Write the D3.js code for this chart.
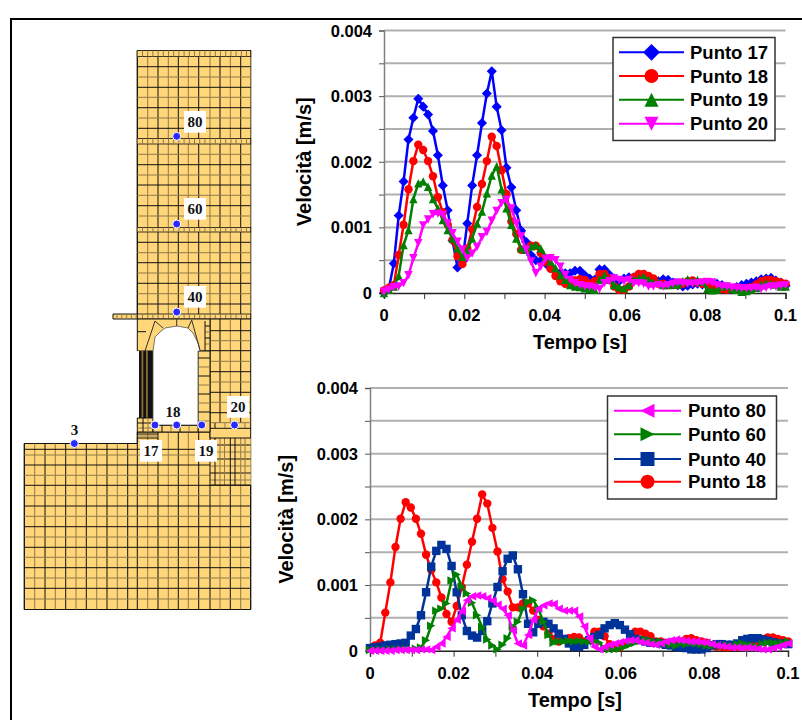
<!DOCTYPE html>
<html>
<head>
<meta charset="utf-8">
<script src="https://cdn.jsdelivr.net/npm/d3@7"></script>
<style>
  html, body { margin: 0; padding: 0; background: #fff; }
  svg { display: block; }
  text { font-family: "Liberation Sans", Arial, sans-serif; font-weight: bold; fill: #000; }
  .mesh-label { font-family: "Liberation Serif", "Times New Roman", serif; font-size: 15px; fill: #111; }
</style>
</head>
<body>
<script>
// sample step of the time series [s]
var timeStep = 0.00122;

// Velocity [m/s]
var punto17 = [
  0, .00007, .00045, .00118, .0017, .00234, .00267, .00296, .00284, .00272,
  .00247, .0021, .00164, .00126, .0008, .00039, .00048, .00106, .00164, .0021,
  .00259, .00304, .00338, .00284, .00248, .00191, .00161, .00126, .00095, .00078,
  .00058, .0005, .00049, .00045, .00038, .00033, .0003, .0003, .0003, .00034,
  .00034, .00027, .00022, .0002, .00036, .00036, .00028, .00022, .00018, .00022,
  .00024, .00024, .00022, .00022, .00018, .00016, .00018, .00021, .0002, .00016,
  .00012, .0001, .00011, .00013, .00014, .00013, .00011, .00014, .00014, .00012,
  .00007, .00006, .00009, .00012, .00014, .00016, .00018, .00021, .00022, .00023,
  .00019, .00016, .00011
];
var punto18 = [
  .00004, .00008, .00012, .00058, .00104, .00158, .00201, .00226, .00218, .00201,
  .00178, .00146, .00123, .00104, .00081, .00056, .00044, .00068, .00097, .00131,
  .00166, .00201, .00238, .00224, .00187, .00151, .00109, .0009, .00066, .00066,
  .00072, .00072, .00061, .00047, .00037, .00026, .00018, .00014, .00017, .00019,
  .00021, .0002, .00014, .00018, .00029, .00029, .00022, .0001, .00005, .00005,
  .0001, .00024, .00029, .00029, .00026, .00022, .00014, .00014, .00012, .00012,
  .00012, .00014, .00018, .00019, .00016, .00014, .00012, .00008, .00006, .00006,
  .00005, .00006, .00006, .00007, .00007, .00009, .00013, .00018, .0002, .0002,
  .00018, .00016, .00014
];
var punto19 = [
  0, .00005, .0001, .00026, .00073, .00096, .00143, .00167, .0017, .00162,
  .00143, .00129, .00111, .00096, .00083, .00068, .00055, .00065, .00083, .00106,
  .00124, .00152, .00179, .00193, .00158, .00129, .00104, .00083, .00068, .00066,
  .00071, .00073, .00068, .00055, .00048, .00038, .00027, .0002, .00012, .0001,
  .00009, .00007, .00006, .00005, .0002, .00027, .0002, .00012, .00009, .00007,
  .00012, .0002, .00022, .00025, .0002, .00016, .00016, .00012, .00012, .00013,
  .00013, .00018, .00021, .00018, .0002, .00017, .00006, .00004, .00005, .0001,
  .00011, .00006, .00005, .00002, .00003, .00005, .00008, .00013, .00015, .00014,
  .00013, .0001, .0001
];
var punto20 = [
  .00002, .00005, .00009, .0001, .00015, .00027, .00053, .00076, .00103, .00112,
  .0012, .00121, .00119, .00106, .00091, .00078, .00066, .00053, .0006, .0007,
  .00085, .00093, .0011, .00125, .00137, .00142, .00129, .00106, .00086, .00066,
  .00048, .0003, .0004, .00052, .00053, .0005, .0004, .00027, .0002, .00015,
  .00012, .0001, .0001, .00008, .00006, .00015, .00018, .00022, .0002, .00018,
  .0002, .00015, .00015, .00014, .0001, .0001, .00012, .0001, .00012, .00014,
  .00016, .00015, .00014, .00014, .00015, .00016, .00017, .00016, .00012, .0001,
  .0001, .00008, .00008, .00007, .00007, .00007, .00008, .00006, .00008, .0001,
  .0001, .00011, .00012
];
var punto40 = [
  .00004, .00005, .00006, .00008, .00009, .0001, .00011, .00012, .00023, .00033,
  .00054, .00089, .00128, .00152, .00161, .00155, .00129, .00089, .00054, .0003,
  .00023, .0002, .0003, .00045, .00072, .00097, .00121, .0014, .00145, .00124,
  .00086, .00041, .00028, .00041, .00044, .00041, .00034, .00026, .00018, .00011,
  .00006, .00006, .00009, .00016, .00021, .00024, .00034, .00039, .00042, .00039,
  .00032, .00025, .00018, .00016, .00014, .00012, .00012, .00011, .00009, .00008,
  .00006, .00005, .00004, .00002, .00002, .00002, .00004, .00008, .0001, .0001,
  .00009, .00009, .00011, .00016, .00018, .00019, .00019, .00017, .00015, .00013,
  .00011, .00011, .0001
];
var punto60 = [
  .00001, .00001, .00001, .00001, .00002, .00002, .00002, .00002, .00002, .00003,
  .00005, .00016, .00038, .00061, .00064, .00072, .00107, .00116, .00098, .00087,
  .00073, .00054, .00036, .00017, .00008, .00002, .00009, .00019, .00037, .00044,
  .00064, .00074, .00077, .00064, .00044, .00024, .00012, .00014, .00014, .00015,
  .00014, .00015, .00014, .00014, .00014, .00012, .00003, .00002, .00002, .00003,
  .00006, .00009, .00012, .00015, .00017, .00016, .00013, .00014, .00011, .00009,
  .00008, .00011, .0001, .00012, .00011, .0001, .00008, .00007, .00009, .00007,
  .00008, .00007, .0001, .00011, .00009, .00008, .00006, .0001, .00012, .00012,
  .00011, .00012, .00014
];
var punto80 = [
  0, 0, 0, 0, 0, .00001, .00001, .00001, .00001, .00001,
  .00002, .00002, .00001, .00006, .00011, .00021, .00034, .00047, .0006, .00077,
  .00083, .00084, .00083, .0008, .00076, .0007, .00064, .00054, .00031, .00011,
  .00008, .00024, .00047, .00064, .00069, .00072, .00071, .00064, .00061, .00061,
  .00061, .00052, .00037, .00019, .00006, .00002, .00006, .00009, .00011, .00013,
  .00015, .00016, .00016, .00013, .00012, .0001, .00009, .00011, .00014, .00016,
  .00017, .00016, .00015, .00014, .00014, .00013, .00012, .0001, .00008, .00007,
  .00006, .00005, .00005, .00004, .00005, .00004, .00003, .00002, .00002, .00004,
  .00006, .00009, .00011
];

var yTicks = [0, 0.001, 0.002, 0.003, 0.004];
var xTicks = [0, 0.02, 0.04, 0.06, 0.08, 0.1];
var xMinorTicks = [0, 0.01, 0.02, 0.03, 0.04, 0.05, 0.06, 0.07, 0.08, 0.09, 0.1];
var yGrid = [0.0005, 0.001, 0.0015, 0.002, 0.0025, 0.003, 0.0035, 0.004];

var topSeries = [
  { name: 'Punto 17', values: punto17, color: '#0000ff', shape: 'diamond' },
  { name: 'Punto 18', values: punto18, color: '#ff0000', shape: 'circle' },
  { name: 'Punto 19', values: punto19, color: '#008000', shape: 'triUp' },
  { name: 'Punto 20', values: punto20, color: '#ff00ff', shape: 'triDown' }
];
var bottomSeries = [
  { name: 'Punto 80', values: punto80, color: '#ff00ff', shape: 'triLeft' },
  { name: 'Punto 60', values: punto60, color: '#008000', shape: 'triRight' },
  { name: 'Punto 40', values: punto40, color: '#003399', shape: 'square' },
  { name: 'Punto 18', values: punto18, color: '#ff0000', shape: 'circle' }
];

// mesh of the masonry section, in page pixels
var towerCols = [137.3, 147.7, 158, 168.3, 178.3, 188.3, 198.7, 210, 220, 230.3, 240.7, 250.7];
var towerRows = [66.7, 77, 87.3, 97.3, 107.7, 118, 128.3, 154.3, 164.7, 175, 185, 195.3, 205.7, 216,
  242.3, 252.7, 262.7, 273, 283.3, 293.7, 304];
var towerBands = [[50.5, 56.5], [138.5, 144], [227.5, 232], [314, 319]];
var groundCols = [24.3, 34.7, 45, 55.3, 65.7, 76, 86.3, 96.7, 107, 117.3, 127.7, 137.3, 147.7, 158, 168.3, 178.3, 188.3, 198.7, 210, 220, 230.3, 240.7, 250.7];
var groundRows = [449.3, 455, 465, 475.3, 485.3, 495.7, 506, 516.3, 526.7, 537, 547.3, 557.3, 567.7, 578, 588.3, 599];
var rightRows = [330.7, 340.7, 350.7, 361.3, 371.7, 382, 392.3, 402.3, 412.7, 422.7];
var fineCols = [215, 224.5, 235, 245];
var fineRows = [445, 452, 459, 466, 473, 480];
var pierRows = [358, 367, 376, 385, 394, 403, 412, 421];

var nodes = [
  { label: '80', x: 176.7, y: 136.3, lx: 184, ly: 111, box: true },
  { label: '60', x: 176.7, y: 224, lx: 184, ly: 198, box: true },
  { label: '40', x: 176.7, y: 312, lx: 184, ly: 286, box: true },
  { label: '3', x: 74.3, y: 443.5, lx: 63.5, ly: 419, box: false },
  { label: '17', x: 155, y: 425, lx: 140, ly: 440, box: true },
  { label: '18', x: 176.7, y: 425, lx: 162, ly: 401, box: false },
  { label: '19', x: 201.7, y: 425, lx: 195, ly: 440, box: true },
  { label: '20', x: 234.5, y: 425, lx: 227, ly: 396, box: true }
];

var svg = d3.select('body').append('svg').attr('width', 802).attr('height', 720);

svg.append('rect').attr('width', 802).attr('height', 720).attr('fill', '#fff');
svg.append('path').attr('d', 'M11,720V19H802').attr('fill', 'none').attr('stroke', '#000').attr('stroke-width', 2);

drawMesh(svg.append('g'));

drawChart({
  series: topSeries,
  left: 384, right: 785.5, top: 30.5, bottom: 293,
  yTitleX: 305, xTitleX: 580, xTitleY: 349,
  legend: { x: 613, y: 37.5, w: 162, h: 103, rows: [52.3, 76, 99.7, 123.7], lineX: [619, 684], textX: 690 }
});
drawChart({
  series: bottomSeries,
  left: 370, right: 788, top: 388, bottom: 650.7,
  yTitleX: 287, xTitleX: 575, xTitleY: 707,
  legend: { x: 607.5, y: 396, w: 169, h: 103, rows: [410.7, 434.3, 459, 481.7], lineX: [614, 681], textX: 688 }
});

function symbolPath(shape, r) {
  if (shape === 'circle') return d3.symbol().type(d3.symbolCircle).size(Math.PI * r * r)();
  if (shape === 'square') return 'M' + -r + ',' + -r + 'H' + r + 'V' + r + 'H' + -r + 'Z';
  if (shape === 'diamond') return 'M0,' + -r * 1.2 + 'L' + r * 1.2 + ',0L0,' + r * 1.2 + 'L' + -r * 1.2 + ',0Z';
  if (shape === 'triUp') return 'M0,' + -r + 'L' + r + ',' + r + 'H' + -r + 'Z';
  if (shape === 'triDown') return 'M0,' + r + 'L' + r + ',' + -r + 'H' + -r + 'Z';
  if (shape === 'triLeft') return 'M' + -r + ',0L' + r + ',' + -r + 'V' + r + 'Z';
  return 'M' + r + ',0L' + -r + ',' + -r + 'V' + r + 'Z';
}

function drawChart(cfg) {
  var g = svg.append('g');
  var x = d3.scaleLinear().domain([0, 0.1]).range([cfg.left, cfg.right]);
  var y = d3.scaleLinear().domain([0, 0.004]).range([cfg.bottom, cfg.top]);

  // gridlines
  g.selectAll('.grid').data(yGrid).enter().append('line')
    .attr('class', 'grid')
    .attr('x1', cfg.left).attr('x2', cfg.right)
    .attr('y1', d => y(d)).attr('y2', d => y(d))
    .attr('stroke', '#b0b0b0').attr('stroke-width', 2);

  // axes
  var xAxis = d3.axisBottom(x).tickValues(xMinorTicks).tickSize(6).tickFormat('');
  g.append('g').attr('transform', 'translate(0,' + cfg.bottom + ')').call(xAxis)
    .call(a => a.select('.domain').attr('stroke', '#222').attr('stroke-width', 1.5))
    .call(a => a.selectAll('line').attr('stroke', '#333').attr('stroke-width', 1));
  var yAxis = d3.axisLeft(y).tickValues(yGrid.concat([0])).tickSize(5).tickFormat('');
  g.append('g').attr('transform', 'translate(' + cfg.left + ',0)').call(yAxis)
    .call(a => a.select('.domain').attr('stroke', '#808080').attr('stroke-width', 1.5))
    .call(a => a.selectAll('line').attr('stroke', '#555').attr('stroke-width', 1));

  g.selectAll('.ylab').data(yTicks).enter().append('text')
    .attr('class', 'ylab')
    .attr('x', cfg.left - 12).attr('y', d => y(d) + 6)
    .attr('text-anchor', 'end').attr('font-size', 16.5)
    .text(d => d === 0 ? '0' : d3.format('.3f')(d));
  g.selectAll('.xlab').data(xTicks).enter().append('text')
    .attr('class', 'xlab')
    .attr('x', d => x(d)).attr('y', cfg.bottom + 28)
    .attr('text-anchor', 'middle').attr('font-size', 16.5)
    .text(d => d === 0 ? '0' : d3.format('.2~f')(d));

  g.append('text').attr('x', cfg.xTitleX).attr('y', cfg.xTitleY)
    .attr('text-anchor', 'middle').attr('font-size', 20).text('Tempo [s]');
  g.append('text')
    .attr('transform', 'translate(' + cfg.yTitleX + ',' + (cfg.top + cfg.bottom) / 2 + ')rotate(-90)')
    .attr('y', 6).attr('text-anchor', 'middle').attr('font-size', 20).text('Velocità [m/s]');

  // series, last one of the legend goes under the others on the lower chart
  var line = d3.line().x((d, i) => x(i * timeStep)).y(d => y(d));
  var order = cfg.series[0].name === 'Punto 80' ? cfg.series.slice().reverse() : cfg.series;
  order.forEach(function (s) {
    var sg = g.append('g');
    sg.append('path').attr('d', line(s.values)).attr('fill', 'none')
      .attr('stroke', s.color).attr('stroke-width', 2.5);
    sg.selectAll('path.mark').data(s.values).enter().append('path')
      .attr('class', 'mark')
      .attr('d', symbolPath(s.shape, 4.2))
      .attr('transform', (d, i) => 'translate(' + x(i * timeStep) + ',' + y(d) + ')')
      .attr('fill', s.color);
  });

  // legend
  var lg = cfg.legend;
  g.append('rect').attr('x', lg.x).attr('y', lg.y).attr('width', lg.w).attr('height', lg.h)
    .attr('fill', '#fff').attr('stroke', '#333').attr('stroke-width', 1.5);
  var mid = (lg.lineX[0] + lg.lineX[1]) / 2;
  var rows = g.selectAll('.legend-row').data(cfg.series).enter().append('g')
    .attr('class', 'legend-row')
    .attr('transform', (d, i) => 'translate(0,' + lg.rows[i] + ')');
  rows.append('line').attr('x1', lg.lineX[0]).attr('x2', lg.lineX[1])
    .attr('stroke', d => d.color).attr('stroke-width', 2);
  rows.append('path').attr('d', d => symbolPath(d.shape, 7))
    .attr('transform', 'translate(' + mid + ',0)')
    .attr('fill', d => d.color);
  rows.append('text').attr('x', lg.textX).attr('y', 6.5).attr('font-size', 18.5).text(d => d.name);
}

function drawMesh(g) {
  var fill = '#ffd67a', dark = '#111', soft = '#8f7a48';

  function hLines(rows, x1, x2) {
    rows.forEach(function (r, i) {
      g.append('line').attr('x1', x1).attr('x2', x2).attr('y1', r).attr('y2', r)
        .attr('stroke', i % 2 ? soft : dark).attr('stroke-width', 1);
    });
  }
  function vLines(cols, y1, y2) {
    cols.forEach(function (c, i) {
      g.append('line').attr('x1', c).attr('x2', c).attr('y1', y1).attr('y2', y2)
        .attr('stroke', i % 2 ? soft : dark).attr('stroke-width', 1);
    });
  }
  function poly(d, f) {
    g.append('path').attr('d', d).attr('fill', f || fill).attr('stroke', dark).attr('stroke-width', 1);
  }

  // tower
  poly('M137.3,50.5H250.7V319H137.3Z');
  vLines(towerCols, 50.5, 319);
  hLines(towerRows, 137.3, 250.7);
  towerBands.forEach(function (b) {
    g.append('rect').attr('x', 137.3).attr('y', b[0]).attr('width', 113.4).attr('height', b[1] - b[0])
      .attr('fill', fill).attr('stroke', dark).attr('stroke-width', 0.8);
    d3.range(137.3, 250, 5.2).forEach(function (c) {
      g.append('line').attr('x1', c).attr('x2', c).attr('y1', b[0]).attr('y2', b[1])
        .attr('stroke', soft).attr('stroke-width', 1);
    });
  });

  // cantilever stub on the left of the tower
  poly('M113,314H137.3V319H113Z');
  d3.range(117, 137, 4.8).forEach(function (c) {
    g.append('line').attr('x1', c).attr('x2', c).attr('y1', 314).attr('y2', 319).attr('stroke', soft);
  });

  // ground block
  poly('M24.3,443.5H137.3V432H210V438H250.7V609.5H24.3Z');
  vLines(groundCols.filter(c => c < 137), 443.5, 609.5);
  vLines(groundCols.filter(c => c >= 137 && c < 210), 432, 609.5);
  vLines([210, 220, 230.3, 240.7, 250.7], 485, 609.5);
  hLines(groundRows, 24.3, 250.7);
  // stepped courses on the left of the upper ground
  hLines([434, 436, 438], 137.3, 158);
  // finer cells under the right part
  g.append('rect').attr('x', 210).attr('y', 438).attr('width', 40.7).attr('height', 47).attr('fill', fill);
  hLines(fineRows, 210, 250.7);
  vLines(fineCols.concat([210, 220, 230.3, 240.7]), 438, 485);
  g.append('line').attr('x1', 210).attr('x2', 250.7).attr('y1', 485).attr('y2', 485).attr('stroke', dark);

  // right wall beside the opening
  poly('M210,319H250.7V438H210Z');
  vLines([220, 230.3, 240.7], 319, 423);
  hLines(rightRows, 210, 250.7);
  hLines([428.3], 210, 250.7);
  vLines([215, 225, 235, 245], 423, 428);

  // arch block, then the opening cut through it
  poly('M137.3,319H210V351H137.3Z');
  hLines([331.7], 137.3, 146);
  hLines([326, 332, 338, 344], 205, 210);
  vLines([205], 321, 351);

  // pier right of the opening
  poly('M198,351H210V432H198Z');
  hLines(pierRows, 198, 210);

  // dark column
  g.append('rect').attr('x', 137.3).attr('y', 351).attr('width', 16).attr('height', 67).attr('fill', '#fff');
  g.append('rect').attr('x', 139).attr('y', 351).attr('width', 14).attr('height', 67).attr('fill', '#111');
  [141.5, 146].forEach(function (c) {
    g.append('rect').attr('x', c).attr('y', 351).attr('width', 1.8).attr('height', 67).attr('fill', '#8a6d35');
  });

  // base under column and the floor strip
  poly('M137.3,418H153V432H137.3Z');
  hLines([423, 428], 137.3, 153);
  vLines([143, 148], 418, 432);
  poly('M153,425.5H198V432H153Z');
  vLines([162, 171, 180, 189], 425.5, 432);

  // opening
  g.append('path')
    .attr('d', 'M153,425V351L155,337L160,332L165,328L177,326L188,328L193,333L198,343L200,351H198V425Z')
    .attr('fill', '#fff').attr('stroke', '#555').attr('stroke-width', 0.8);

  // voussoir wedges
  g.append('path').attr('d', 'M145,351L155,321L163,328').attr('fill', 'none').attr('stroke', '#333');
  g.append('path').attr('d', 'M188,328L191.7,320L200,350M176.7,319V326').attr('fill', 'none').attr('stroke', '#333');

  // nodes and labels
  nodes.forEach(function (n) {
    if (n.box) {
      g.append('rect').attr('x', n.lx).attr('y', n.ly).attr('width', 22).attr('height', 21.7).attr('fill', '#fff');
    }
    g.append('circle').attr('cx', n.x).attr('cy', n.y).attr('r', 4)
      .attr('fill', '#2a2aff').attr('stroke', '#fff').attr('stroke-width', 1);
    g.append('text').attr('class', 'mesh-label')
      .attr('x', n.lx + 11).attr('y', n.ly + 16).attr('text-anchor', 'middle')
      .text(n.label);
  });
}
</script>
</body>
</html>
